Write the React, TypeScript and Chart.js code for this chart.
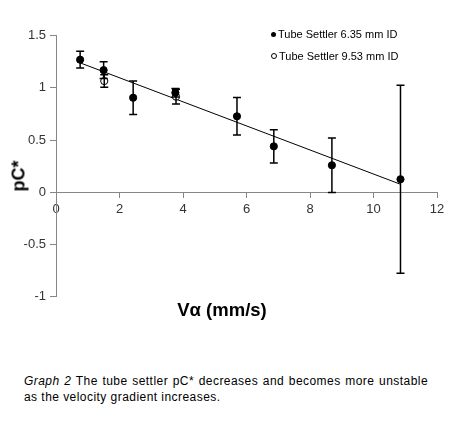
import { useEffect, useRef } from 'react'
import { Chart, registerables } from 'chart.js'

Chart.register(...registerables)

// Tube settler 6.35 mm ID (filled markers)
const VEL_635 = [0.76, 1.5, 2.43, 3.76, 5.7, 6.86, 8.69, 10.85]
const PC_635 = [1.27, 1.17, 0.906, 0.954, 0.728, 0.44, 0.259, 0.125]
const ERR_635 = [0.08, 0.08, 0.16, 0.04, 0.18, 0.16, 0.26, 0.9]

// Tube settler 9.53 mm ID (open markers)
const VEL_953 = [1.52, 3.78]
const PC_953 = [1.066, 0.916]
const ERR_953 = [0.06, 0.07]

// linear trendline end points
const TREND_X = [0.76, 10.85]
const TREND_Y = [1.24, 0.077]

const Y_LABELS: Record<string, string> = { '1.5': '1.5', '1': '1', '0.5': '0.5', '0': '0', '-0.5': '-0.5', '-1': '-1' }

const AXIS = '#868686'
const FONT = '"Liberation Sans", Arial, sans-serif'

const toPoints = (xs: number[], ys: number[]) => xs.map((x, i) => ({ x, y: ys[i] }))

const errorBars = {
  id: 'errorBars',
  afterDatasetsDraw(chart: any) {
    const { ctx, scales } = chart
    const x = scales.x
    const y = scales.y
    ctx.save()
    ctx.strokeStyle = '#000'
    ctx.lineWidth = 1.5
    const draw = (xs: number[], ys: number[], es: number[]) => {
      xs.forEach((v, i) => {
        const px = x.getPixelForValue(v)
        const top = y.getPixelForValue(ys[i] + es[i])
        const bot = y.getPixelForValue(ys[i] - es[i])
        ctx.beginPath()
        ctx.moveTo(px, top); ctx.lineTo(px, bot)
        ctx.moveTo(px - 4, top); ctx.lineTo(px + 4, top)
        ctx.moveTo(px - 4, bot); ctx.lineTo(px + 4, bot)
        ctx.stroke()
      })
    }
    draw(VEL_635, PC_635, ERR_635)
    draw(VEL_953, PC_953, ERR_953)
    ctx.restore()
  }
}

if (typeof document !== 'undefined') document.body.style.margin = '0'

export default function App() {
  const canvasRef = useRef<HTMLCanvasElement>(null)
  const chartRef = useRef<Chart | null>(null)

  useEffect(() => {
    if (!canvasRef.current) return
    chartRef.current?.destroy()
    chartRef.current = new Chart(canvasRef.current, {
      type: 'scatter',
      data: {
        datasets: [
          {
            data: toPoints(VEL_635, PC_635),
            backgroundColor: '#000',
            borderColor: '#000',
            pointRadius: 3.6,
            order: 0
          },
          {
            data: toPoints(VEL_953, PC_953),
            backgroundColor: '#fff',
            borderColor: '#000',
            borderWidth: 1,
            pointRadius: 3.6,
            order: 1
          },
          {
            type: 'line',
            data: toPoints(TREND_X, TREND_Y),
            borderColor: '#000',
            borderWidth: 1,
            pointRadius: 0,
            order: 2
          } as any
        ]
      },
      options: {
        animation: false,
        responsive: false,
        events: [],
        layout: { padding: { top: 35.7, right: 18, bottom: 33.3, left: 0 } },
        plugins: { legend: { display: false }, tooltip: { enabled: false } },
        scales: {
          x: {
            type: 'linear',
            position: { y: 0 } as any,
            min: 0,
            max: 12,
            border: { color: AXIS, width: 1 },
            grid: { display: true, drawOnChartArea: false, color: AXIS, tickLength: 5 },
            ticks: { stepSize: 2, padding: 4, color: '#333', font: { family: FONT, size: 13 } }
          },
          y: {
            type: 'linear',
            min: -1,
            max: 1.5,
            afterFit: (s: any) => { s.width = 56 },
            border: { color: AXIS, width: 1 },
            grid: { display: true, drawOnChartArea: false, color: AXIS, tickLength: 6 },
            ticks: {
              stepSize: 0.5,
              padding: 4,
              color: '#333',
              font: { family: FONT, size: 13 },
              callback: (v: any) => Y_LABELS[String(v)] ?? String(v)
            }
          }
        }
      },
      plugins: [errorBars]
    })
    return () => { chartRef.current?.destroy() }
  }, [])

  return (
    <div style={{ position: 'relative', width: 455, height: 424, background: '#fff', fontFamily: FONT }}>
      <canvas ref={canvasRef} width={455} height={330} style={{ position: 'absolute', left: 0, top: 0, width: 455, height: 330 }} />

      <div style={{ position: 'absolute', left: 271, top: 27, fontSize: 11, color: '#000', lineHeight: '14px', whiteSpace: 'nowrap' }}>
        <span style={{ display: 'inline-block', width: 5, height: 5, borderRadius: '50%', background: '#000', marginRight: 2, verticalAlign: 'middle', position: 'relative', top: -1 }} />
        Tube Settler 6.35 mm ID
      </div>
      <div style={{ position: 'absolute', left: 271, top: 49, fontSize: 11, color: '#000', lineHeight: '14px', whiteSpace: 'nowrap' }}>
        <span style={{ display: 'inline-block', width: 4, height: 4, borderRadius: '50%', border: '0.8px solid #000', marginRight: 2, verticalAlign: 'middle', position: 'relative', top: -1 }} />
        Tube Settler 9.53 mm ID
      </div>

      <div style={{ position: 'absolute', left: 19, top: 176, transform: 'translate(-50%, -50%) rotate(-90deg)', fontSize: 18, fontWeight: 700, whiteSpace: 'nowrap' }}>
        pC*
      </div>
      <div style={{ position: 'absolute', left: 222, top: 310, transform: 'translate(-50%, -50%)', fontSize: 18.5, fontWeight: 700, whiteSpace: 'nowrap' }}>
        Vα (mm/s)
      </div>

      <div style={{ position: 'absolute', left: 24, top: 373, width: 404, fontSize: 12, lineHeight: '16px', color: '#000', letterSpacing: 0.45 }}>
        <div style={{ textAlign: 'justify', textAlignLast: 'justify' }}>
          <i>Graph 2</i> The tube settler pC* decreases and becomes more unstable
        </div>
        <div>as the velocity gradient increases.</div>
      </div>
    </div>
  )
}
